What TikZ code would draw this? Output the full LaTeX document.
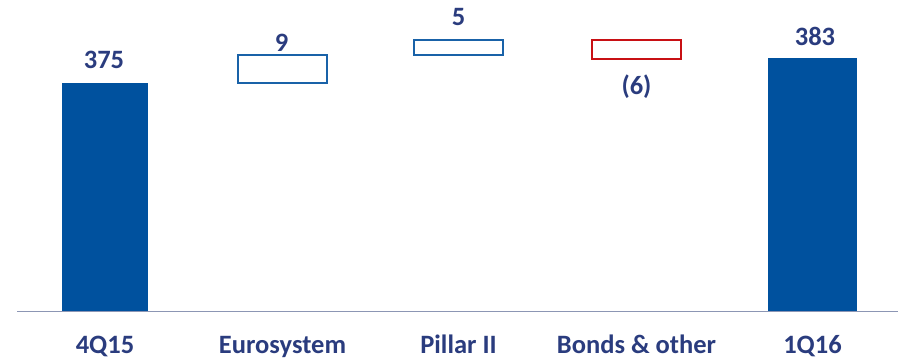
\documentclass[tikz,border=0pt]{standalone}
\usepackage{fontspec}
\setmainfont{Carlito}
\usetikzlibrary{positioning}

\definecolor{barblue}{RGB}{0,81,158}
\definecolor{txtblue}{RGB}{42,60,126}
\definecolor{boxred}{RGB}{200,16,20}
\definecolor{axisgray}{RGB}{140,150,180}

\tikzset{
  solidbar/.style={fill=barblue},
  upbox/.style={draw=barblue!90!white, line width=1.8pt, fill=white},
  downbox/.style={draw=boxred, line width=1.8pt, fill=white},
  vallabel/.style={anchor=base, text=txtblue, font=\fontsize{26.5}{30}\selectfont\bfseries, inner sep=0pt},
  catlabel/.style={anchor=base, text=txtblue, font=\fontsize{26.5}{30}\selectfont\bfseries, inner sep=0pt}
}

\begin{document}
\begin{tikzpicture}[x=1pt, y=-1pt]
\useasboundingbox (0,0) rectangle (904,359);

% ---------- BARS ----------
\fill[solidbar] (62,83) rectangle (148,311);
\draw[upbox] (238,55) rectangle (327,83);
\draw[upbox] (414,40) rectangle (503,55);
\draw[downbox] (592,40) rectangle (681,59);
\fill[solidbar] (768,58) rectangle (857,311);

% ---------- AXIS ----------
\coordinate (axL) at (17,311.5);
\coordinate (axR) at (898,311.5);
\draw[axisgray, line width=1.6pt] (axL) -- (axR);

% ---------- VALUES ----------
\node[vallabel] (v375) at (104,68.5) {375};
\node[vallabel] (v9)   at (281.5,51.5) {9};
\node[vallabel] (v5)   at (458.5,25) {5};
\node[vallabel] (v6)   at (636.5,94) {(6)};
\node[vallabel] (v383) at (815,45) {383};

% ---------- CATEGORIES ----------
\node[catlabel] (c4q15) at (105,353) {4Q15};
\node[catlabel] (ceuro) at (282.5,353) {Eurosystem};
\node[catlabel] (cpil)  at (458.5,353) {Pillar II};
\node[catlabel] (cbond) at (636.5,353) {Bonds \& other};
\node[catlabel] (c1q16) at (812.5,353) {1Q16};

\end{tikzpicture}
\end{document}
